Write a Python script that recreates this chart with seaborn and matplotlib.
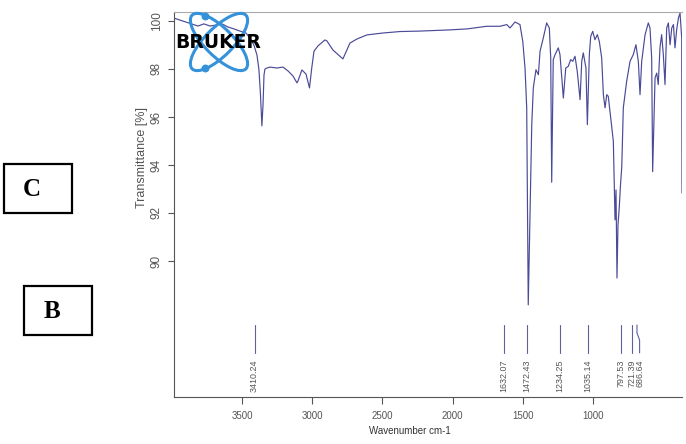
import matplotlib
matplotlib.use("Agg")
import matplotlib.pyplot as plt
from matplotlib.patches import Ellipse, Rectangle
import seaborn as sns
import pandas as pd

# spectrum (wavenumber on the drawn axis, transmittance %)
wavenumber = [3984, 3942, 3899, 3856, 3813, 3771, 3728, 3685, 3642, 3600,
              3557, 3514, 3472, 3443, 3415, 3393, 3379, 3368, 3358, 3350,
              3343, 3336, 3322, 3301, 3251, 3208, 3172, 3137, 3108, 3101,
              3073, 3044, 3019, 3003, 2987, 2959, 2909, 2895, 2852, 2781,
              2731, 2681, 2610, 2496, 2375, 2232, 2018, 1897, 1757, 1662,
              1614, 1591, 1555, 1543, 1520, 1500, 1484, 1472, 1466, 1461,
              1436, 1425, 1406, 1389, 1377, 1354, 1330, 1311, 1301, 1294,
              1283, 1270, 1247, 1235, 1211, 1194, 1176, 1159, 1144, 1128,
              1112, 1092, 1080, 1069, 1050, 1040, 1026, 1016, 1002, 986,
              969, 955, 938, 926, 914, 902, 891, 874, 855, 843,
              836, 829, 822, 813, 804, 795, 784, 760, 736, 713,
              694, 677, 665, 653, 629, 606, 594, 582, 575, 558,
              546, 535, 523, 511, 499, 487, 475, 463, 451, 439,
              427, 416, 404, 391, 380, 368, 366]
transmittance = [100.12, 100.04, 99.96, 99.88, 99.79, 99.88, 99.79, 99.83, 99.88, 99.75,
                 99.67, 99.58, 99.50, 99.29, 99.00, 98.58, 97.96, 96.92, 95.63, 96.50,
                 97.75, 98.00, 98.04, 98.08, 98.04, 98.08, 97.92, 97.71, 97.42, 97.50,
                 97.96, 97.79, 97.21, 98.04, 98.74, 98.96, 99.21, 99.17, 98.79, 98.42,
                 99.08, 99.25, 99.42, 99.50, 99.56, 99.58, 99.63, 99.67, 99.78, 99.78,
                 99.85, 99.71, 99.96, 99.92, 99.85, 99.15, 98.04, 96.38, 92.00, 88.17,
                 95.68, 97.21, 97.97, 97.76, 98.74, 99.29, 99.92, 99.71, 98.46, 93.28,
                 98.39, 98.60, 98.88, 98.60, 96.79, 98.04, 98.11, 98.39, 98.32, 98.53,
                 97.90, 96.72, 98.32, 98.67, 98.04, 95.68, 98.60, 99.36, 99.57, 99.22,
                 99.43, 99.15, 98.46, 96.93, 96.38, 96.93, 96.86, 95.96, 94.99, 91.71,
                 92.96, 89.29, 91.50, 92.21, 93.17, 93.92, 96.38, 97.49, 98.32, 98.60,
                 99.01, 98.32, 96.93, 98.32, 99.43, 99.92, 99.71, 98.46, 93.72, 97.63,
                 97.83, 97.35, 98.88, 99.43, 98.60, 97.35, 99.71, 99.92, 99.01, 99.71,
                 99.85, 98.88, 99.64, 100.13, 100.33, 99.29, 92.83]

peak_values = [3410.24, 1632.07, 1472.43, 1234.25, 1035.14, 797.53, 721.39, 686.64]
peak_labels = ["3410.24", "1632.07", "1472.43", "1234.25", "1035.14", "797.53", "721.39", "686.64"]
label_x = [3410.24, 1632.07, 1472.43, 1234.25, 1035.14, 797.53, 721.39, 668]

x_ticks = [3500, 3000, 2500, 2000, 1500, 1000]
y_ticks = [90, 92, 94, 96, 98, 100]

sns.set_style("ticks")
plt.rcParams['font.family'] = ['Liberation Sans', 'DejaVu Sans']

df = pd.DataFrame({"Wavenumber": wavenumber, "Transmittance": transmittance})

fig = plt.figure(figsize=(6.86, 4.44), dpi=100)
ax = fig.add_axes([174 / 686, 1 - 397 / 444, 508 / 686, 385 / 444])

sns.lineplot(data=df, x="Wavenumber", y="Transmittance", ax=ax, sort=False,
             estimator=None, color="#4a4a98", linewidth=0.85)

# peak markers and labels
for pv, lx, lab in zip(peak_values, label_x, peak_labels):
    ax.plot([pv, pv, lx, lx], [87.33, 87.0, 86.7, 86.17], color="#6060a0", linewidth=0.8)
    ax.text(lx, 85.9, lab, rotation=90, ha="center", va="top", fontsize=6.4, color="#555555")

ax.set_xlim(3984, 366)
ax.set_ylim(84.33, 100.375)
ax.set_xticks(x_ticks)
ax.set_yticks(y_ticks)
ax.tick_params(axis="x", labelsize=7, colors="#555555", length=5, width=0.8, pad=5)
ax.tick_params(axis="y", labelsize=8.5, colors="#555555", length=4, width=0.8, pad=4)
for lab in ax.get_yticklabels():
    lab.set_rotation(90)
    lab.set_va("center")

ax.set_xlabel("Wavenumber cm-1", fontsize=7, color="#333333")
ax.set_ylabel("Transmittance [%]", fontsize=9, color="#555555")
ax.xaxis.set_label_coords(0.465, -0.075)
ax.yaxis.set_label_coords(-0.052, 0.622)

ax.spines["right"].set_visible(False)
ax.spines["top"].set_color("#aaaaaa")
ax.spines["left"].set_color("#555555")
ax.spines["bottom"].set_color("#555555")
for s in ["top", "left", "bottom"]:
    ax.spines[s].set_linewidth(0.8)

# Bruker logo
logo = fig.add_axes([(219 - 35) / 686, 1 - (42 + 32) / 444, 70 / 686, 64 / 444])
logo.set_xlim(-35, 35)
logo.set_ylim(-32, 32)
logo.axis("off")
logo.patch.set_alpha(0)
for ang in [45, -45]:
    logo.add_patch(Ellipse((0, 0), 76, 28, angle=ang, fill=False,
                           edgecolor="#3592da", linewidth=2.2))
logo.scatter([-14, -14], [26, -26], s=22, color="#3592da", zorder=3)
fig.text(218 / 686, 1 - 42 / 444, "BRUKER", ha="center", va="center",
         fontsize=13.5, fontweight="bold", family="DejaVu Sans", color="black")

# panel letter boxes
for (x0, y0, x1, y1, letter) in [(4, 164, 72, 213, "C"), (24, 286, 92, 335, "B")]:
    fig.add_artist(Rectangle((x0 / 686, 1 - y1 / 444), (x1 - x0) / 686, (y1 - y0) / 444,
                             transform=fig.transFigure, fill=False,
                             edgecolor="black", linewidth=1.6))
    fig.text((x0 + 28) / 686, 1 - ((y0 + y1) / 2 + 1) / 444, letter, ha="center", va="center",
             fontsize=18, fontweight="bold", family="Liberation Serif", color="black")

fig.savefig("out.png", dpi=100)
